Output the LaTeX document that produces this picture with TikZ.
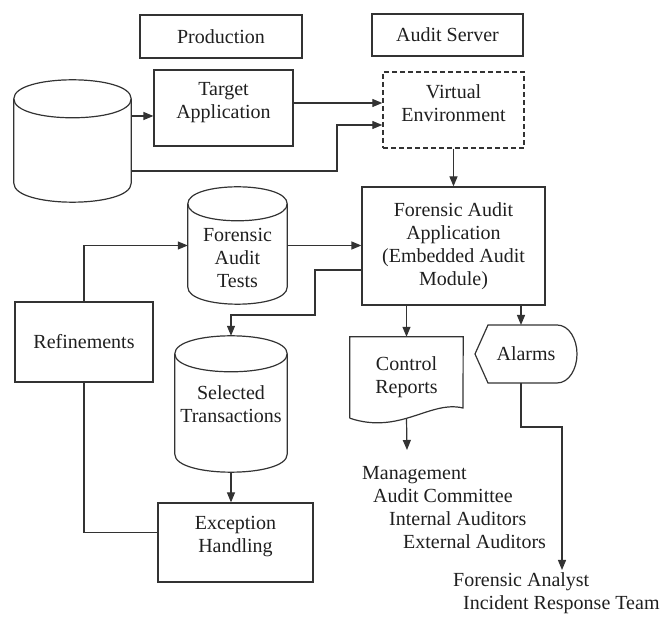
\documentclass[tikz,border=0pt]{standalone}
\usepackage{fontspec}
\setmainfont{Liberation Serif}
\usetikzlibrary{arrows.meta}

% text size used throughout the chart
\newcommand\charttext{\fontsize{20}{23}\selectfont}

% outline of a data store (cylinder) filling node #1; #2 = half-height of its end ellipses
\newcommand\drum[2]{%
  \draw[link] ([yshift=-#2pt]#1.north west) -- ([yshift=#2pt]#1.south west)
    .. controls +(0,1.333*#2) and +(0,1.333*#2) .. ([yshift=#2pt]#1.south east)
    -- ([yshift=-#2pt]#1.north east);
  \draw[link] ([yshift=-#2pt]#1.north west)
    .. controls +(0,-1.333*#2) and +(0,-1.333*#2) .. ([yshift=-#2pt]#1.north east)
    .. controls +(0,1.333*#2) and +(0,1.333*#2) .. ([yshift=-#2pt]#1.north west);
}

\begin{document}
\begin{tikzpicture}[x=1pt, y=-1pt,
  every node/.style={font=\charttext, text=black!88},
  link/.style={line width=1.2pt, draw=black!80},
  arr/.style={link, -{Triangle[length=10pt,width=8pt]}},
  box/.style={draw=black!80, line width=1.2pt, inner sep=0pt, align=center},
  dbox/.style={box, dash pattern=on 5pt off 3pt, line width=1.4pt},
  store/.style={inner sep=0pt, align=center},
  raised/.style={label={[align=center, yshift=#1]center:}},
  plain/.style={inner sep=0pt, align=left, anchor=north west}]

\useasboundingbox (0,0) rectangle (665,617);

% ---- headers
\node[box, minimum width=162, minimum height=43] (prod) at (221,36.5) {Production};
\node[box, minimum width=151, minimum height=42] (srv) at (447.5,35) {Audit Server};

% ---- production side
\node[store, minimum width=117, minimum height=122] (big) at (72.5,141) {};
\drum{big}{19}
\node[box, minimum width=139, minimum height=76,
  label={[name=targetlbl, align=center, yshift=5.5pt]center:{Target\\Application}}]
  (target) at (223.5,108) {};

% ---- audit server side
\node[dbox, minimum width=141, minimum height=76,
  label={[name=velbl, align=center, yshift=6.5pt]center:{Virtual\\Environment}}]
  (ve) at (453.5,110) {};
\node[box, minimum width=183, minimum height=118] (faa) at (453.5,246)
  {Forensic Audit\\Application\\(Embedded Audit\\Module)};

\node[store, minimum width=99, minimum height=117] (fat) at (237.5,245.5) {};
\drum{fat}{17}
\node[store] (fatlbl) at (237.5,258) {Forensic\\Audit\\Tests};

\node[box, minimum width=138, minimum height=80] (ref) at (84,342) {Refinements};

\node[store, minimum width=112, minimum height=136] (st) at (231,404) {Selected\\Transactions};
\drum{st}{18}

\node[box, minimum width=155, minimum height=79,
  label={[name=exlbl, align=center, yshift=6pt]center:{Exception\\Handling}}]
  (ex) at (235.5,542.5) {};

% ---- outputs
\node[store, minimum width=113, minimum height=81] (cr) at (406.5,377.5) {Control\\Reports};
\draw[link] (cr.south west) -- (cr.north west) -- (cr.north east) -- (463,408)
  .. controls (430,400) and (400,435) .. (cr.south west);

\node[store, minimum width=102, minimum height=58] (alarm) at (526,354) {Alarms};
\draw[link] (488,325) -- (557,325) .. controls (569,325) and (577,339) .. (577,354)
  .. controls (577,369) and (569,383) .. (557,383) -- (488,383) -- (475,354) -- cycle;

\node[plain] (recv) at (362,466)
  {Management\\\hspace*{11pt}Audit Committee\\\hspace*{27pt}Internal Auditors\\\hspace*{41pt}External Auditors};
\node[plain] (resp) at (453,572)
  {Forensic Analyst\\\hspace*{10pt}Incident Response Team};

\coordinate (alarmin) at (521,325);
\coordinate (crout) at (407,450);
\coordinate (respin) at (562,570);

% ---- connectors
\draw[arr] ([yshift=25pt]big.east) -- ([yshift=-8pt]target.west);
\draw[arr] ([yshift=5pt]target.east) -- ([yshift=7pt]ve.west);
\draw[arr] ([yshift=-30pt]big.east) -| (337,125) -- ([yshift=-15pt]ve.west);
\draw[arr] (ve.south) -- (faa.north);
\draw[arr] (fat.east) -- (fat.east -| faa.west);
\draw[arr] (ref.north) |- (fat.west);
\draw[arr] ([yshift=-24pt]faa.west) -| (315,315) -| (st.north);
\draw[arr] (st.south) -- (st.south |- ex.north);
\draw[link] (ref.south) |- ([yshift=10pt]ex.west);
\draw[arr] (cr.north |- faa.south) -- (cr.north);
\draw[arr] (alarmin |- faa.south) -- (alarmin);
\draw[arr] (cr.south) -- (crout);
\draw[arr] (alarmin |- alarm.south) -- (521,427) -| (respin);

\end{tikzpicture}
\end{document}
